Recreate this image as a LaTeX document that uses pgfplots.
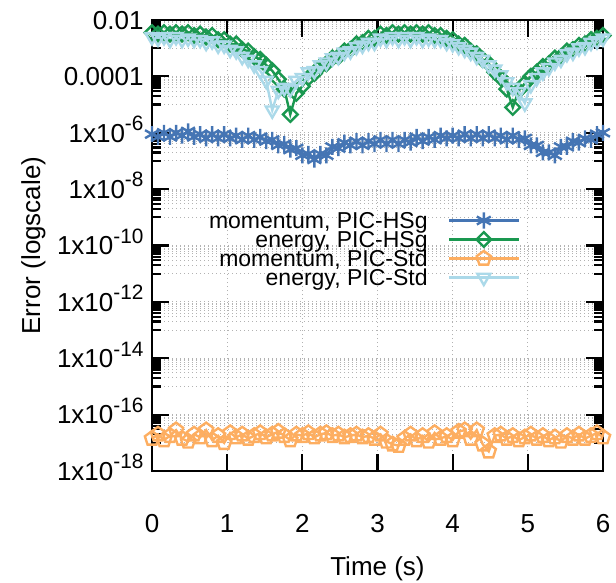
\documentclass[border=0pt]{standalone}
\usepackage{fontspec}
\setmainfont{Liberation Sans}
\usepackage{pgfplots}
\usepackage{pgfplotstable}
\pgfplotsset{compat=1.18}
\definecolor{cB}{HTML}{4575B4}
\definecolor{cG}{HTML}{1A9850}
\definecolor{cO}{HTML}{FDAE61}
\definecolor{cL}{HTML}{ABD9E9}
\newcommand{\sig}[1]{1x10\raisebox{11.5bp}{\fontsize{20.8bp}{22bp}\selectfont #1}}
\newcommand{\minorlist}{1e-3,2e-3,3e-3,4e-3,5e-3,6e-3,7e-3,8e-3,9e-3,
    1e-5,2e-5,3e-5,4e-5,5e-5,6e-5,7e-5,8e-5,9e-5,
    1e-7,2e-7,3e-7,4e-7,5e-7,6e-7,7e-7,8e-7,9e-7,
    1e-9,2e-9,3e-9,4e-9,5e-9,6e-9,7e-9,8e-9,9e-9,
    1e-11,2e-11,3e-11,4e-11,5e-11,6e-11,7e-11,8e-11,9e-11,
    1e-13,2e-13,3e-13,4e-13,5e-13,6e-13,7e-13,8e-13,9e-13,
    1e-15,2e-15,3e-15,4e-15,5e-15,6e-15,7e-15,8e-15,9e-15,
    1e-17,2e-17,3e-17,4e-17,5e-17,6e-17,7e-17,8e-17,9e-17}
\pgfplotstableread{
t B G O L
0.00 8.91e-7 3.55e-3 1.41e-17 2.51e-3
0.08 7.08e-7 3.16e-3 2.00e-17 2.24e-3
0.16 1.00e-6 3.55e-3 1.26e-17 2.51e-3
0.24 7.08e-7 3.16e-3 1.78e-17 2.00e-3
0.32 1.00e-6 3.55e-3 2.82e-17 2.51e-3
0.40 7.94e-7 3.16e-3 1.41e-17 2.00e-3
0.48 1.12e-6 3.55e-3 1.12e-17 2.24e-3
0.56 7.08e-7 2.82e-3 2.00e-17 2.00e-3
0.64 8.91e-7 3.16e-3 1.58e-17 2.00e-3
0.72 6.31e-7 2.51e-3 2.82e-17 1.58e-3
0.80 8.91e-7 2.82e-3 1.26e-17 1.78e-3
0.88 6.31e-7 2.00e-3 1.78e-17 1.26e-3
0.96 8.91e-7 2.00e-3 1.00e-17 1.26e-3
1.04 6.31e-7 1.41e-3 2.24e-17 8.91e-4
1.12 7.94e-7 1.41e-3 1.58e-17 7.94e-4
1.20 5.62e-7 8.91e-4 2.00e-17 5.01e-4
1.28 7.94e-7 7.94e-4 1.41e-17 3.98e-4
1.36 5.62e-7 5.01e-4 1.78e-17 2.51e-4
1.44 7.08e-7 3.98e-4 2.24e-17 1.58e-4
1.52 5.01e-7 2.51e-4 1.58e-17 7.08e-5
1.60 5.62e-7 1.58e-4 2.00e-17 6.31e-6
1.68 3.55e-7 7.94e-5 2.51e-17 3.16e-5
1.76 3.98e-7 3.55e-5 1.78e-17 3.98e-5
1.84 2.51e-7 4.47e-6 1.26e-17 3.55e-5
1.92 2.82e-7 2.51e-5 2.00e-17 7.08e-5
2.00 1.58e-7 4.47e-5 1.78e-17 8.91e-5
2.08 1.78e-7 8.91e-5 2.24e-17 1.41e-4
2.16 1.12e-7 1.26e-4 1.58e-17 1.58e-4
2.24 1.78e-7 2.24e-4 2.00e-17 2.51e-4
2.32 1.58e-7 2.82e-4 2.24e-17 3.16e-4
2.40 3.16e-7 4.47e-4 1.78e-17 4.47e-4
2.48 2.82e-7 5.01e-4 2.00e-17 5.01e-4
2.56 4.47e-7 7.94e-4 1.58e-17 7.08e-4
2.64 3.55e-7 8.91e-4 1.78e-17 7.94e-4
2.72 5.01e-7 1.41e-3 2.00e-17 1.12e-3
2.80 3.55e-7 1.58e-3 1.58e-17 1.26e-3
2.88 5.01e-7 2.24e-3 1.78e-17 1.58e-3
2.96 3.98e-7 2.24e-3 1.41e-17 1.58e-3
3.04 5.62e-7 3.16e-3 2.00e-17 2.24e-3
3.12 3.98e-7 2.82e-3 1.12e-17 2.00e-3
3.20 5.62e-7 3.55e-3 8.91e-18 2.51e-3
3.28 3.98e-7 3.16e-3 7.94e-18 2.00e-3
3.36 5.62e-7 3.55e-3 1.41e-17 2.51e-3
3.44 4.47e-7 3.16e-3 2.00e-17 2.00e-3
3.52 7.08e-7 3.55e-3 1.26e-17 2.51e-3
3.60 5.01e-7 3.16e-3 1.78e-17 2.00e-3
3.68 7.08e-7 3.55e-3 1.12e-17 2.24e-3
3.76 5.62e-7 2.82e-3 2.24e-17 2.00e-3
3.84 7.94e-7 2.82e-3 1.41e-17 2.00e-3
3.92 6.31e-7 2.24e-3 1.78e-17 1.58e-3
4.00 7.94e-7 2.00e-3 1.26e-17 1.41e-3
4.08 6.31e-7 1.41e-3 2.51e-17 1.12e-3
4.16 8.91e-7 1.26e-3 2.82e-17 8.91e-4
4.24 6.31e-7 7.94e-4 1.41e-17 7.08e-4
4.32 8.91e-7 6.31e-4 2.82e-17 5.01e-4
4.40 6.31e-7 3.98e-4 8.91e-18 3.98e-4
4.48 8.91e-7 2.82e-4 5.01e-18 2.51e-4
4.56 6.31e-7 1.41e-4 1.78e-17 1.78e-4
4.64 7.94e-7 8.91e-5 2.00e-17 1.12e-4
4.72 5.62e-7 3.55e-5 1.41e-17 6.31e-5
4.80 7.94e-7 7.94e-6 1.78e-17 3.98e-5
4.88 5.62e-7 3.16e-5 1.26e-17 2.82e-5
4.96 6.31e-7 5.62e-5 1.58e-17 1.12e-5
5.04 3.55e-7 1.00e-4 2.00e-17 5.01e-5
5.12 3.55e-7 1.41e-4 1.41e-17 8.91e-5
5.20 2.00e-7 2.24e-4 1.78e-17 1.41e-4
5.28 2.00e-7 2.82e-4 1.26e-17 2.00e-4
5.36 1.58e-7 4.47e-4 1.58e-17 3.16e-4
5.44 3.16e-7 5.01e-4 1.12e-17 3.98e-4
5.52 3.16e-7 7.94e-4 1.78e-17 6.31e-4
5.60 5.01e-7 8.91e-4 1.41e-17 7.08e-4
5.68 4.47e-7 1.26e-3 2.00e-17 1.00e-3
5.76 6.31e-7 1.41e-3 1.41e-17 1.12e-3
5.84 5.62e-7 2.00e-3 1.78e-17 1.58e-3
5.92 8.91e-7 2.24e-3 2.24e-17 1.78e-3
6.00 1.00e-6 2.82e-3 1.58e-17 2.24e-3
}\data
\begin{document}
\begin{tikzpicture}
% background axis: only the dotted grid
\begin{axis}[
  at={(0,0)}, anchor=south west,
  scale only axis, width=451bp, height=451bp,
  xmin=0, xmax=6, ymin=1e-18, ymax=1e-2, ymode=log,
  xtick={0,1,2,3,4,5,6}, minor x tick num=0, minor y tick num=0,
  ytick={1e-2,1e-4,1e-6,1e-8,1e-10,1e-12,1e-14,1e-16,1e-18},
  xticklabels={}, yticklabels={},
  extra y ticks/.expand once={\minorlist},
  extra y tick labels={},
  extra y tick style={grid=major},
  xmajorgrids, ymajorgrids,
  major grid style={black!30, line width=1bp, dash pattern=on 1.2bp off 2.8bp},
  major tick length=0pt,
  axis line style={draw=none},
]
\end{axis}
% main axis: data, ticks, labels
\begin{axis}[
  at={(0,0)}, anchor=south west,
  scale only axis, width=451bp, height=451bp,
  xmin=0, xmax=6, ymin=1e-18, ymax=1e-2, ymode=log,
  xtick={0,1,2,3,4,5,6}, minor x tick num=0, minor y tick num=0,
  ytick={1e-2,1e-4,1e-6,1e-8,1e-10,1e-12,1e-14,1e-16,1e-18},
  yticklabels={0.01,0.0001,\sig{-6},\sig{-8},\sig{-10},\sig{-12},\sig{-14},\sig{-16},\sig{-18}},
  extra y ticks/.expand once={\minorlist},
  extra y tick labels={},
  extra y tick style={major tick length=9bp},
  tick align=inside, xtick pos=both, ytick pos=both,
  major tick length=17bp,
  every tick/.style={black, line width=2.2bp, solid},
  axis line style={black, line width=2.5bp},
  clip=false,
  /pgf/number format/assume math mode=true,
  tick label style={font=\fontsize{26bp}{30bp}\selectfont},
  label style={font=\fontsize{26bp}{30bp}\selectfont},
  xticklabel style={anchor=base, yshift=-61bp},
  yticklabel style={anchor=base east, xshift=-5bp, yshift=-9.3bp},
  xlabel={Time (s)}, ylabel={Error (logscale)},
  xlabel style={at={(axis description cs:0.5,-0.2306)}, anchor=base},
  ylabel style={at={(axis description cs:-0.2483,0.5)}, anchor=base},
  legend cell align=right,
  legend plot pos=right,
  legend style={at={(0.816,0.5765)}, anchor=north east, draw=none, fill=none,
    inner sep=0pt, outer sep=0pt, font=\fontsize{23bp}{25bp}\selectfont,
    column sep=20bp, row sep=0pt,
    nodes={inner sep=0pt, text height=17.8bp, text depth=1.2bp}},
  legend image code/.code={\draw[mark repeat=2,mark phase=2,#1] plot coordinates {(0bp,0bp)(35bp,0bp)(70bp,0bp)};},
]
\addplot[cB, line width=2.4bp, mark=asterisk, mark size=8bp, mark options={solid, line width=2.4bp}] table[x=t,y=B]{\data};
\addlegendentry{momentum, PIC-HSg}
\addplot[cG, line width=2.4bp, mark=square, mark size=5.2bp, mark options={solid, rotate=45, line width=2.4bp}] table[x=t,y=G]{\data};
\addlegendentry{energy, PIC-HSg}
\addplot[cO, line width=2.4bp, mark=pentagon, mark size=7.5bp, mark options={solid, line width=2.4bp}] table[x=t,y=O]{\data};
\addlegendentry{momentum, PIC-Std}
\addplot[cL, line width=2.4bp, mark=triangle, mark size=7.5bp, mark options={solid, rotate=180, line width=2.4bp}] table[x=t,y=L]{\data};
\addlegendentry{energy, PIC-Std}
\end{axis}
\pgfresetboundingbox
\useasboundingbox (-152bp,-112bp) rectangle (464bp,471bp);
\end{tikzpicture}
\end{document}
